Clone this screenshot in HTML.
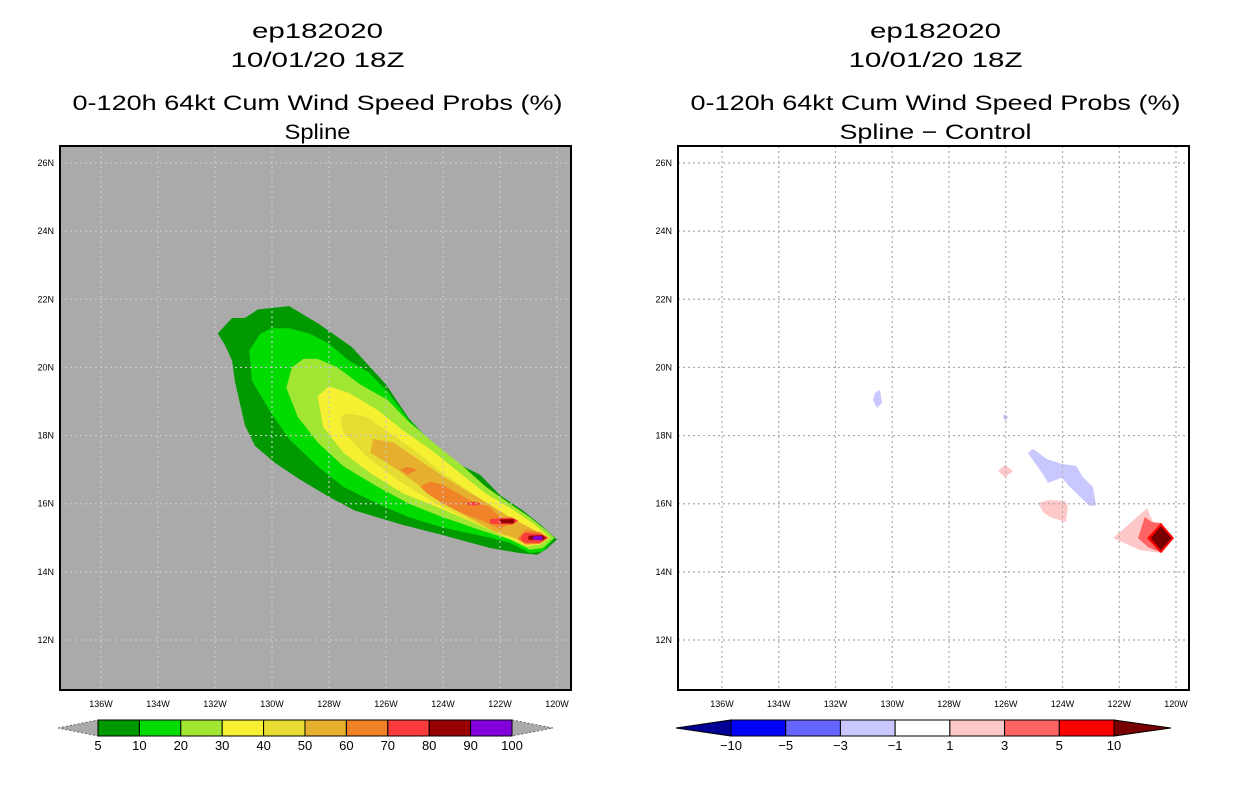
<!DOCTYPE html>
<html><head><meta charset="utf-8"><style>
html,body{margin:0;padding:0;background:#fff;width:1236px;height:800px;overflow:hidden}
svg text{font-family:"Liberation Sans",sans-serif}
</style></head><body>
<svg id="c" width="1236" height="800" xmlns="http://www.w3.org/2000/svg"></svg>
<script>
// ---- data ----
const lonTicks=[136,134,132,130,128,126,124,122,120];
const latTicks=[12,14,16,18,20,22,24,26];
const probLevels=[5,10,20,30,40,50,60,70,80,90,100];
const probColors=['#009900','#00dc00','#a0e632','#f5f032','#e6dc32','#e6af2d','#f08228','#fa3c3c','#960000','#8200dc'];
const diffLevels=[-10,-5,-3,-1,1,3,5,10];
const diffColors=['#000096','#0000ff','#6464ff','#c8c8ff','#ffffff','#ffc8c8','#ff6464','#ff0000','#780000'];
// probability contours [lon(W), lat(N)], level index into probColors
const p5=[[131.9,21.0],[131.4,21.45],[130.95,21.45],[130.5,21.7],[129.4,21.8],[128.4,21.3],[127.2,20.6],[126.0,19.5],[125.2,18.5],[124.2,17.6],[123.3,17.1],[122.7,16.85],[122.0,16.25],[121.2,15.8],[120.6,15.4],[120.0,14.95],[120.4,14.65],[120.7,14.5],[121.3,14.55],[122.35,14.7],[124.1,15.1],[125.5,15.4],[127.1,15.8],[128.0,16.2],[129.0,16.7],[129.9,17.2],[130.6,17.7],[130.95,18.3],[131.3,19.6],[131.4,20.2],[131.65,20.65]];
const p10=[[130.8,20.5],[130.4,21.0],[130.0,21.15],[129.4,21.15],[128.7,21.0],[128.0,20.7],[127.3,20.2],[126.6,19.85],[125.9,19.25],[125.2,18.45],[124.5,17.9],[123.8,17.4],[123.05,16.9],[122.35,16.3],[121.65,15.9],[120.95,15.6],[120.5,15.3],[120.07,15.0],[120.5,14.6],[120.95,14.55],[121.65,14.85],[122.35,15.0],[124.0,15.3],[125.2,15.6],[126.3,16.0],[127.5,16.5],[128.4,17.1],[129.4,17.9],[130.1,18.75],[130.7,19.6]];
const p20=[[129.5,19.4],[129.3,20.0],[128.9,20.25],[128.4,20.25],[127.7,20.0],[126.9,19.5],[125.95,19.05],[125.2,18.4],[124.2,17.7],[123.3,17.1],[122.5,16.5],[121.65,16.0],[120.95,15.6],[120.35,15.2],[120.1,15.0],[120.5,14.7],[120.95,14.65],[121.65,14.95],[122.6,15.2],[124.0,15.6],[125.2,16.0],[126.3,16.5],[127.5,17.1],[128.4,17.8],[129.1,18.55]];
const p30=[[128.4,19.15],[128.0,19.45],[127.3,19.25],[126.3,18.75],[125.4,18.15],[124.45,17.6],[123.4,16.9],[122.5,16.3],[121.5,15.8],[120.8,15.4],[120.25,15.0],[120.6,14.8],[121.05,14.75],[121.75,15.0],[122.8,15.4],[124.2,15.9],[125.4,16.3],[126.55,16.9],[127.5,17.5],[128.2,18.25]];
const p40=[[127.6,18.55],[127.4,18.65],[126.7,18.55],[125.9,18.1],[124.9,17.5],[124.0,16.9],[122.8,16.2],[121.9,15.7],[121.05,15.3],[120.35,15.0],[120.7,14.85],[121.2,14.85],[122.1,15.15],[123.3,15.6],[124.45,16.1],[125.6,16.7],[126.7,17.4],[127.5,18.1]];
const p50=[[126.55,17.5],[126.45,17.9],[125.75,17.8],[124.7,17.2],[123.8,16.7],[122.6,16.1],[121.65,15.6],[120.85,15.25],[120.4,15.0],[120.65,14.9],[121.3,14.95],[122.25,15.2],[123.3,15.7],[124.45,16.3],[125.6,17.0]];
const p60a=[[124.8,16.5],[124.45,16.65],[124.0,16.55],[123.05,16.1],[122.35,15.9],[122.0,15.6],[121.65,15.45],[122.0,15.25],[122.6,15.5],[123.3,15.7],[124.0,16.0],[124.55,16.3]];
const p60b=[[125.5,17.0],[125.25,17.08],[124.9,17.0],[125.25,16.85]];
const p60c=[[121.1,15.23],[120.6,15.17],[120.3,15.0],[120.6,14.82],[121.1,14.8],[121.4,14.97]];
const p70a=[[123.3,16.0],[122.9,16.06],[122.6,16.0],[122.9,15.94]];
const p70b=[[122.35,15.55],[121.6,15.6],[121.35,15.5],[121.6,15.38],[122.35,15.42]];
const p70c=[[121.15,15.15],[120.6,15.12],[120.3,15.0],[120.6,14.85],[121.15,14.86],[121.3,14.98]];
const p80a=[[122.0,15.54],[121.5,15.55],[121.5,15.42],[122.0,15.43]];
const p80b=[[121.0,15.06],[120.5,15.08],[120.4,15.0],[120.5,14.93],[121.0,14.94]];
const p90=[[120.85,15.04],[120.55,15.05],[120.5,14.99],[120.55,14.93],[120.85,14.95]];
const probShapes=[[p5,0],[p10,1],[p20,2],[p30,3],[p40,4],[p50,5],[p60a,6],[p60b,6],[p60c,6],[p70a,7],[p70b,7],[p70c,7],[p80a,8],[p80b,8],[p90,9]];
// difference contours, index into diffColors
const d1=[[130.61,19.25],[130.43,19.34],[130.36,18.96],[130.54,18.81],[130.68,19.04]];
const d2=[[126.06,18.63],[125.92,18.57],[125.99,18.43],[126.1,18.52]];
const d3=[[125.22,17.49],[125.04,17.61],[124.55,17.31],[124.02,17.17],[123.52,17.11],[123.28,16.78],[122.93,16.49],[122.82,15.96],[123.03,15.93],[123.38,16.2],[123.74,16.49],[124.02,16.76],[124.51,16.61],[124.72,16.9]];
const d4=[[126.27,16.96],[126.03,17.14],[125.74,16.96],[126.03,16.78]];
const d5=[[124.86,16.02],[124.51,16.11],[123.91,16.08],[123.81,15.9],[123.88,15.46],[124.44,15.61],[124.69,15.76]];
const d6=[[122.22,14.99],[121.02,15.87],[120.81,15.46],[120.1,14.99],[120.49,14.55],[121.27,14.64]];
const d7=[[121.34,14.99],[121.1,15.61],[120.85,15.46],[120.49,15.43],[120.32,14.85],[120.57,14.58],[120.99,14.73]];
const d8=[[121.02,14.99],[120.53,15.43],[120.07,14.99],[120.53,14.55]];
const d9=[[120.9,14.99],[120.53,15.34],[120.16,14.99],[120.53,14.64]];
const diffShapes=[[d1,3],[d2,3],[d3,3],[d4,5],[d5,5],[d6,5],[d7,6],[d8,7],[d9,8]];

// ---- drawing ----
const svg=document.getElementById('c');
const NS='http://www.w3.org/2000/svg';
function mk(tag,attrs,parent){const e=document.createElementNS(NS,tag);for(const k in attrs)e.setAttribute(k,attrs[k]);(parent||svg).appendChild(e);return e;}
function txt(s,x,y,size,anchor,len,parent){const t=mk('text',{x:x,y:y,'font-size':size,'text-anchor':anchor||'middle',fill:'#000'},parent);if(len){t.setAttribute('textLength',len);t.setAttribute('lengthAdjust','spacingAndGlyphs');}t.textContent=s;return t;}

const Y0=146,Y1=690;
function yScale(lat){return 163+(26-lat)*(640-163)/14;}
function makeX(x136,x120){return lon=>x136+(136-lon)*(x120-x136)/16;}

function panel(px0,px1,x136,x120,bg,gridCol,shapes,colors,title4,len4,name){
  const g=mk('g',{});
  
  
  const xs=makeX(x136,x120);
  const cx=(px0+px1)/2+2;
  const t1=txt('ep182020',cx,38,21,'middle',131,g);
  const t2=txt('10/01/20 18Z',cx,67,21,'middle',174,g);
  const t3=txt('0-120h 64kt Cum Wind Speed Probs (%)',cx,110,21,'middle',490,g);
  const t4=txt(title4,cx,139,21,'middle',len4,g);
  const bgR=mk('rect',{x:px0,y:Y0,width:px1-px0,height:Y1-Y0,fill:bg},g);
  
  shapes.forEach(s=>{
    const pts=s[0].map(p=>xs(p[0]).toFixed(1)+','+yScale(p[1]).toFixed(1)).join(' ');
    const pg=mk('polygon',{points:pts,fill:colors[s[1]]},g);
    
    
  });
  lonTicks.forEach(l=>{
    const x=xs(l);
    const gl=mk('line',{x1:x,y1:Y0,x2:x,y2:Y1,stroke:gridCol,'stroke-width':1.2,'stroke-dasharray':'2,3'},g);
    
    const tl=txt(l+'W',x,707,9,'middle',null,g);
    
  });
  latTicks.forEach(l=>{
    const y=yScale(l);
    const gl=mk('line',{x1:px0,y1:y,x2:px1,y2:y,stroke:gridCol,'stroke-width':1.2,'stroke-dasharray':'2,3'},g);
    
    const tl=txt(l+'N',px0-6,y+3,9,'end',null,g);
    
  });
  const fr=mk('rect',{x:px0,y:Y0,width:px1-px0,height:Y1-Y0,fill:'none',stroke:'#000','stroke-width':2},g);
  
}

function colorbar(x0,xb0,xb1,x1,labels,colors,leftTri,rightTri,triStroke,name){
  const g=mk('g',{});
  
  
  const y0=720,y1=736,ym=728;
  const lt=mk('polygon',{points:`${x0},${ym} ${xb0},${y0} ${xb0},${y1}`,fill:leftTri,stroke:triStroke,'stroke-width':1,'stroke-dasharray':triStroke==='#000'?'':'2,2'},g);
  
  const rt=mk('polygon',{points:`${xb1},${y0} ${x1},${ym} ${xb1},${y1}`,fill:rightTri,stroke:triStroke,'stroke-width':1,'stroke-dasharray':triStroke==='#000'?'':'2,2'},g);
  
  const n=colors.length, w=(xb1-xb0)/n;
  colors.forEach((c,i)=>{
    const r=mk('rect',{x:xb0+i*w,y:y0,width:w,height:y1-y0,fill:c,stroke:'#000','stroke-width':1},g);
    
  });
  labels.forEach((l,i)=>{
    const t=txt(String(l).replace('-','\u2212'),xb0+i*w,750,13,'middle',null,g);
    
  });
}

panel(60,571,101,557,'#aaaaaa','#c8c8c8',probShapes,probColors,'Spline',66,'left-panel');
panel(678,1189,722,1176,'#ffffff','#aaaaaa',diffShapes,diffColors,'Spline \u2212 Control',192,'right-panel');
colorbar(58,98,512,553,probLevels,probColors,'#aaaaaa','#aaaaaa','#666','prob-colorbar');
colorbar(676,731,1114,1171,diffLevels,diffColors.slice(1,8),diffColors[0],diffColors[8],'#000','diff-colorbar');
</script>
</body></html>
